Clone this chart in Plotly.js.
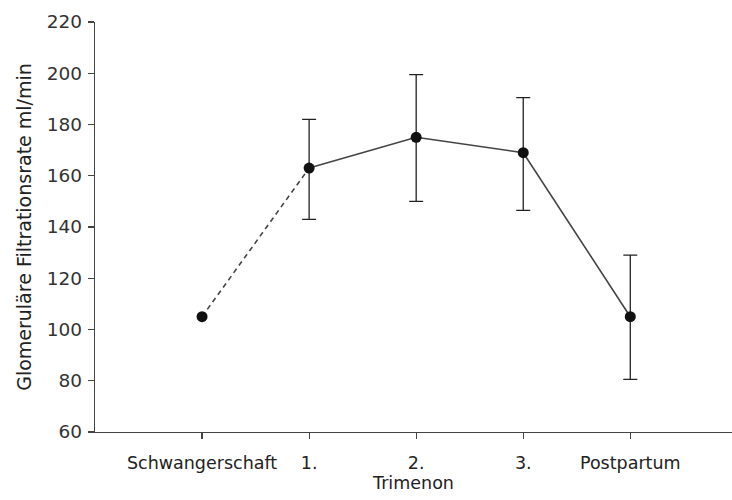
<!DOCTYPE html>
<html><head><meta charset="utf-8">
<script src="https://cdn.plot.ly/plotly-3.0.1.min.js"></script>
<style>body{margin:0;background:#fff}#chart{width:732px;height:500px}</style>
</head><body><div id="chart"></div>
<script>
const categories = ["Schwangerschaft", "1.", "2.", "3.", "Postpartum"];
const gfr = [105, 163, 175, 169, 105];
const errUpper = [0, 182, 199.5, 190.5, 129];
const errLower = [0, 143, 150, 146.5, 80.5];
const yTicks = [60, 80, 100, 120, 140, 160, 180, 200, 220];

const xIdx = categories.map((c, i) => i);
const plus = gfr.map((v, i) => i === 0 ? 0 : errUpper[i] - v);
const minus = gfr.map((v, i) => i === 0 ? 0 : v - errLower[i]);

const traces = [
  {
    x: xIdx.slice(0, 2), y: gfr.slice(0, 2), mode: "lines", type: "scatter",
    line: {color: "#444", width: 1.6, dash: "5px,4px"}, hoverinfo: "skip", showlegend: false
  },
  {
    x: xIdx.slice(1), y: gfr.slice(1), mode: "lines", type: "scatter",
    line: {color: "#444", width: 1.6}, showlegend: false,
    error_y: {type: "data", symmetric: false, array: plus.slice(1), arrayminus: minus.slice(1),
      color: "#222", thickness: 1.3, width: 7}
  },
  {
    x: xIdx, y: gfr, mode: "markers", type: "scatter",
    marker: {color: "#111", size: 11}, showlegend: false
  }
];

const FONT = "DejaVu Sans, sans-serif";
const layout = {
  width: 732, height: 500,
  margin: {l: 95, r: 0, t: 22, b: 68},
  paper_bgcolor: "#fff", plot_bgcolor: "#fff",
  font: {family: FONT, color: "#222"},
  xaxis: {
    range: [-1, 4.95], tickvals: xIdx, ticktext: categories,
    showgrid: false, zeroline: false, showline: true, linecolor: "#444", linewidth: 1.3,
    ticks: "outside", ticklen: 6, tickcolor: "#444", tickwidth: 1.2,
    tickfont: {size: 17.5, family: FONT, color: "#222"},
    ticklabelstandoff: 9,
    title: {text: "Trimenon", font: {size: 17.5, family: FONT, color: "#222"}, standoff: 4}
  },
  yaxis: {
    range: [60, 220], tickvals: yTicks,
    showgrid: false, zeroline: false, showline: true, linecolor: "#444", linewidth: 1.3,
    ticks: "outside", ticklen: 6, tickcolor: "#444", tickwidth: 1.2,
    tickfont: {size: 18.5, family: FONT, color: "#333"},
    ticklabelstandoff: 2,
    title: {text: "Glomeruläre Filtrationsrate ml/min", font: {size: 19, family: FONT, color: "#222"}, standoff: 10}
  }
};

Plotly.newPlot("chart", traces, layout, {displayModeBar: false, staticPlot: true});
</script></body></html>
